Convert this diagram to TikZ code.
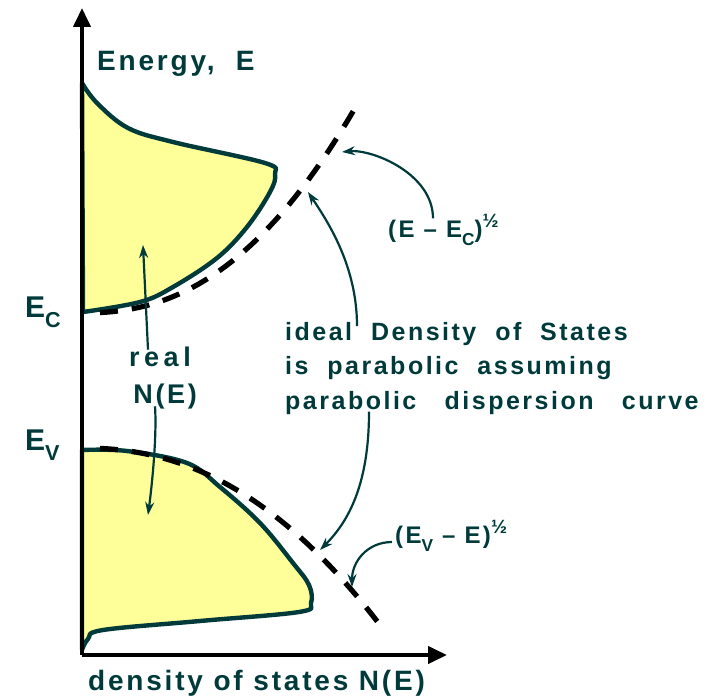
\documentclass[tikz,border=0pt]{standalone}
\usepackage{graphicx}
\usepackage{fontspec}
\newfontfamily\lbfont[LetterSpace=10]{Liberation Sans}
\usetikzlibrary{arrows.meta,shapes}
\definecolor{dteal}{RGB}{0,58,58}
\definecolor{band}{RGB}{255,255,153}
\newcommand{\lowtxt}[1]{\raisebox{-0.35em}{\scalebox{0.72}{#1}}}
\newcommand{\halfsup}{\raisebox{0.38em}{\scalebox{0.8}{½}}}
\tikzstyle{lbl}=[text=dteal,inner sep=0pt]
\tikzstyle{pointer}=[-{Stealth[length=13pt,width=9pt]},draw=dteal,line width=2.2pt]
\tikzstyle{dos}=[draw=dteal,fill=band,line width=4.4pt,line join=round]
\tikzstyle{ideal}=[black,line width=5.2pt,dash pattern=on 18pt off 14pt]
\tikzstyle{axis}=[black,line width=4pt,-{Triangle[length=19pt,width=17pt]}]

\begin{document}
\begin{tikzpicture}[x=1pt,y=-1pt]
\useasboundingbox (0,0) rectangle (707,698);
% real density of states
\draw[dos] plot[smooth,tension=0.6] coordinates {(82,83) (97,103) (128,128) (173,142) (265,163) (275,174) (270,192) (247,227) (217,258) (173,287) (140,302) (83,312)} -- cycle;
\draw[dos] plot[smooth,tension=0.6] coordinates {(82,450) (127,451) (187,463) (220,487) (260,523) (293,563) (309,585) (311,603) (299,612) (200,621) (103,630) (88,639) (82,650)} -- cycle;
% ideal parabolas
\draw[ideal] plot[domain=18:273,samples=40] ({82+\x},{313-205*(\x/273)^2.3});
\draw[ideal] plot[domain=18:298,samples=40] ({82+\x},{448+177*(\x/298)^2.2});
% axes
\coordinate (o) at (82,655);
\coordinate (ytip) at (82,8);
\coordinate (xtip) at (447,655);
\draw[axis] (o) -- (ytip);
\draw[axis] (o) -- (xtip);
% labels
\node[lbl,anchor=base west,font=\lbfont\bfseries\fontsize{28}{34}\selectfont] (energy) at (97,71) {Energy,\ \ E};
\node[lbl,anchor=base west,font=\lbfont\bfseries\fontsize{30}{34}\selectfont] (ec) at (25,317) {E\lowtxt{C}};
\node[lbl,anchor=base west,font=\lbfont\bfseries\fontsize{30}{34}\selectfont] (ev) at (25,450) {E\lowtxt{V}};
\node[lbl,anchor=base west,font=\lbfont\bfseries\fontsize{28}{34}\selectfont] (nlbl) at (88,690) {density of states N(E)};
\node[lbl,align=center,font=\lbfont\bfseries\fontsize{27}{37}\selectfont] (real) at (160,378) {r\,e\,a\,l\\\ N(E)};
\node[lbl,anchor=north west,align=left,font=\lbfont\bfseries\fontsize{25}{34.5}\selectfont] (idl) at (285,322) {ideal\ \ Density\ \ of\ \ States\\ is\ \ parabolic\ \ assuming\\parabolic\ \ \ dispersion\ \ \ curve};
\node[lbl,anchor=base west,font=\lbfont\bfseries\fontsize{24}{30}\selectfont] (ecl) at (388,237) {(E \textendash{} E\lowtxt{C})\halfsup};
\node[lbl,anchor=base west,font=\lbfont\bfseries\fontsize{24}{30}\selectfont] (evl) at (395,543) {(E\lowtxt{V} \textendash{} E)\halfsup};
% pointers
\coordinate (cband) at (143,245);
\coordinate (vband) at (148,515);
\coordinate (cpar) at (342,152);
\coordinate (cpar2) at (308,192);
\coordinate (vpar) at (320,550);
\coordinate (vpar2) at (352,587);
\draw[pointer] ([xshift=-12pt,yshift=-3pt]real.north) -- (cband);
\draw[pointer] ([xshift=-5pt,yshift=3pt]real.south) .. controls +(2,30) and +(4,-30) .. (vband);
\draw[pointer] ([xshift=45pt,yshift=-4pt]ecl.north west) .. controls +(0,-45) and +(30,-3) .. (cpar);
\draw[pointer] ([xshift=72pt,yshift=-4pt]idl.north west) .. controls +(0,-60) and +(20,30) .. (cpar2);
\draw[pointer] ([xshift=84pt,yshift=3pt]idl.south west) .. controls +(0,70) and +(30,-30) .. (vpar);
\draw[pointer] ([xshift=-3pt,yshift=-6pt]evl.west) .. controls +(-25,0) and +(0,-25) .. (vpar2);
\end{tikzpicture}
\end{document}
